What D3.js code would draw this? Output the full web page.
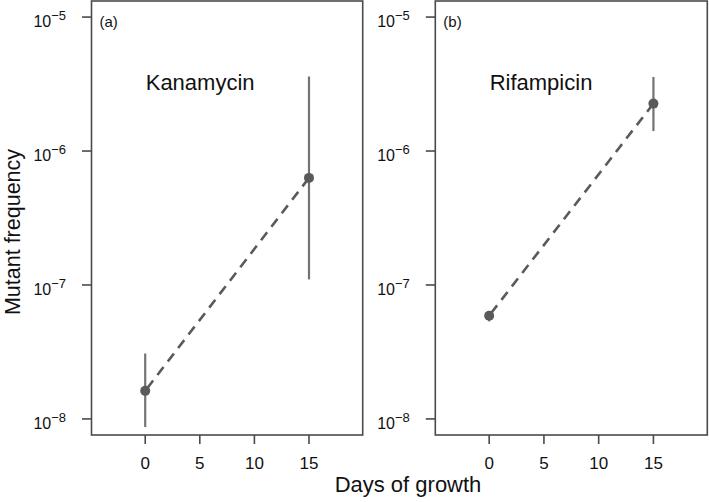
<!DOCTYPE html>
<html>
<head>
<meta charset="utf-8">
<script src="https://cdn.jsdelivr.net/npm/d3@7"></script>
<style>
  html, body { margin: 0; padding: 0; background: #fff; }
  svg { display: block; font-family: "Liberation Sans", Arial, Helvetica, sans-serif; }
</style>
</head>
<body>
<svg id="chart" width="709" height="502"></svg>
<script>
// ---- data ----
const days = [0, 15];
const xTicks = [0, 5, 10, 15];
const yTickExps = [-5, -6, -7, -8];
const panelLabels = ["(a)", "(b)"];
const antibiotics = ["Kanamycin", "Rifampicin"];
const kanamycinMean  = [1.62e-8, 6.3e-7];
const kanamycinLow   = [8.7e-9, 1.1e-7];
const kanamycinHigh  = [3.08e-8, 3.6e-6];
const rifampicinMean = [5.9e-8, 2.26e-6];
const rifampicinLow  = [5.35e-8, 1.41e-6];
const rifampicinHigh = [6.4e-8, 3.57e-6];
const xLabel = "Days of growth";
const yLabel = "Mutant frequency";

const series = [
  { mean: kanamycinMean, low: kanamycinLow, high: kanamycinHigh },
  { mean: rifampicinMean, low: rifampicinLow, high: rifampicinHigh }
];

// ---- layout ----
const svg = d3.select("#chart");
const panels = [
  { left: 91.5, right: 362.7 },
  { left: 435.3, right: 707.3 }
];
const plotTop = 1, plotBottom = 435;
const axisColor = "#4a4a4a";
const markColor = "#5a5a5a";
const barColor = "#737373";

const y = d3.scaleLog().domain([Math.pow(10, -8.12), Math.pow(10, -4.88)]).range([plotBottom, plotTop]);

panels.forEach((p, i) => {
  const x = d3.scaleLinear().domain([-4.92, 19.92]).range([p.left, p.right]);
  const g = svg.append("g");
  const s = series[i];

  // frame
  g.append("rect")
    .attr("x", p.left).attr("y", plotTop)
    .attr("width", p.right - p.left).attr("height", plotBottom - plotTop)
    .attr("fill", "none").attr("stroke", axisColor).attr("stroke-width", 1.6);

  // x axis ticks and labels
  xTicks.forEach(t => {
    g.append("line")
      .attr("x1", x(t)).attr("x2", x(t))
      .attr("y1", plotBottom).attr("y2", plotBottom + 9)
      .attr("stroke", axisColor).attr("stroke-width", 1.6);
    g.append("text")
      .attr("x", x(t)).attr("y", 468.5)
      .attr("text-anchor", "middle")
      .attr("font-size", 17).attr("fill", "#111")
      .text(t);
  });

  // y axis ticks and labels
  yTickExps.forEach(e => {
    const yy = y(Math.pow(10, e));
    g.append("line")
      .attr("x1", p.left - 9.5).attr("x2", p.left)
      .attr("y1", yy).attr("y2", yy)
      .attr("stroke", axisColor).attr("stroke-width", 1.6);
    const txt = g.append("text")
      .attr("x", p.left - 25.5).attr("y", yy + 10)
      .attr("text-anchor", "end")
      .attr("fill", "#111");
    txt.append("tspan").attr("font-size", 16).text("10");
    txt.append("tspan").attr("font-size", 13).attr("dy", -6.7).text("\u2212" + (-e));
  });

  // panel label
  g.append("text")
    .attr("x", p.left + 8).attr("y", 27)
    .attr("font-size", 15).attr("fill", "#111")
    .text(panelLabels[i]);

  // antibiotic title
  g.append("text")
    .attr("x", x(0) + 0.5).attr("y", 89.5)
    .attr("font-size", 22).attr("fill", "#111")
    .text(antibiotics[i]);

  // dashed line
  const line = d3.line().x((d, k) => x(days[k])).y(d => y(d));
  g.append("path")
    .datum(s.mean)
    .attr("d", line)
    .attr("fill", "none")
    .attr("stroke", markColor)
    .attr("stroke-width", 2.6)
    .attr("stroke-dasharray", "10,7")
    .attr("stroke-dashoffset", -3);

  // error bars
  days.forEach((d, k) => {
    g.append("line")
      .attr("x1", x(d)).attr("x2", x(d))
      .attr("y1", y(s.low[k])).attr("y2", y(s.high[k]))
      .attr("stroke", barColor).attr("stroke-width", 2.2);
  });

  // points
  days.forEach((d, k) => {
    g.append("circle")
      .attr("cx", x(d)).attr("cy", y(s.mean[k]))
      .attr("r", 5)
      .attr("fill", markColor);
  });
});

// axis titles
svg.append("text")
  .attr("x", 408).attr("y", 492)
  .attr("text-anchor", "middle")
  .attr("font-size", 22).attr("fill", "#111")
  .text(xLabel);

svg.append("text")
  .attr("transform", "translate(20,232) rotate(-90)")
  .attr("text-anchor", "middle")
  .attr("font-size", 21.5).attr("fill", "#111")
  .text(yLabel);
</script>
</body>
</html>
